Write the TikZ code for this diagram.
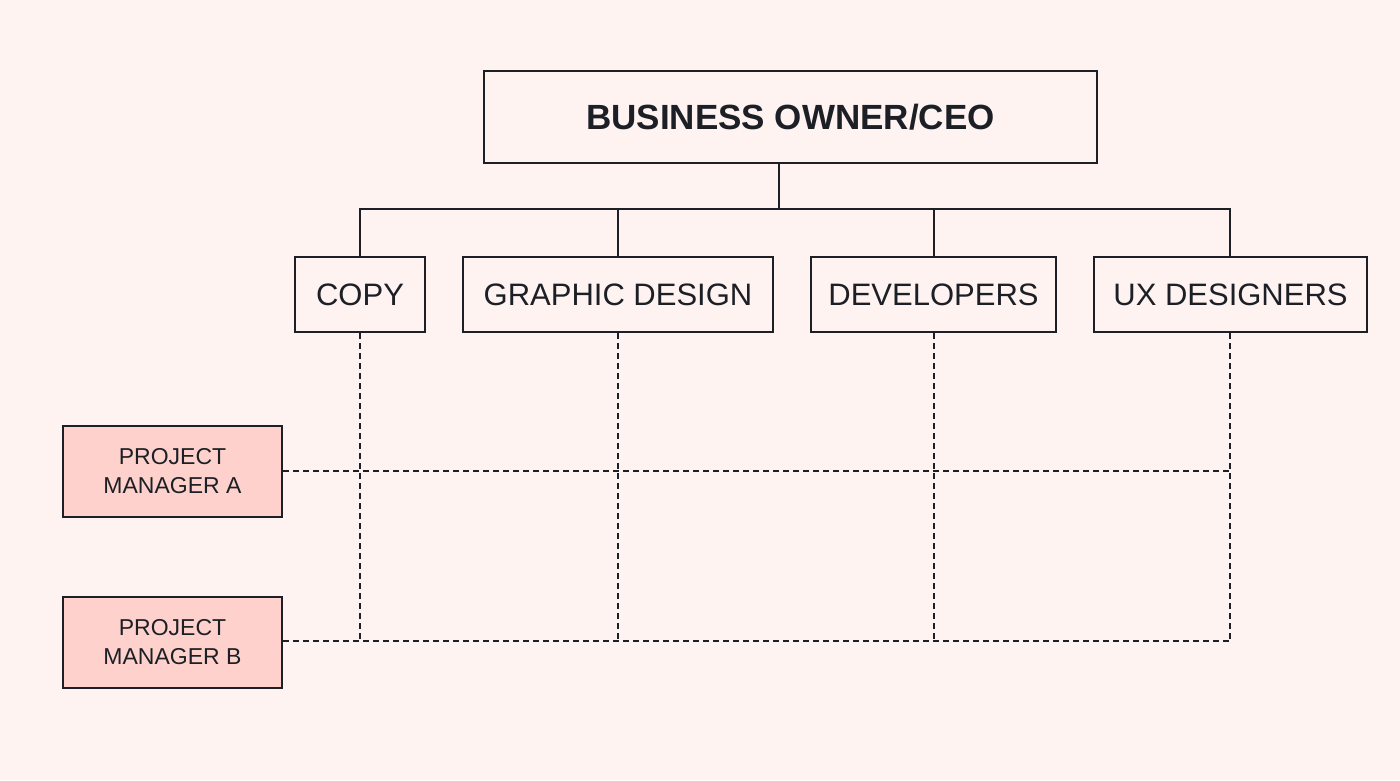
\documentclass[tikz,border=0pt]{standalone}
\usepackage{fontspec}
\setmainfont{Liberation Sans}
\definecolor{bg}{RGB}{254,243,241}
\definecolor{pm}{RGB}{254,209,204}
\definecolor{ink}{RGB}{28,32,38}
\begin{document}
\begin{tikzpicture}[x=1pt,y=-1pt,
  box/.style={draw=ink,line width=2pt,text=ink,inner sep=0pt,anchor=north west},
  pmbox/.style={box,fill=pm,align=center,font=\fontsize{23}{29}\selectfont},
  dept/.style={box,font=\fontsize{31}{36}\selectfont},
  solidline/.style={draw=ink,line width=2pt},
  dline/.style={draw=ink,line width=2pt,dash pattern=on 6pt off 4pt}]
\fill[bg] (0,0) rectangle (1400,780);
\useasboundingbox (0,0) rectangle (1400,780);
\node[box,minimum width=613pt,minimum height=92pt,font=\bfseries\fontsize{35}{40}\selectfont] (ceo) at (483,70) {BUSINESS OWNER/CEO};
\node[dept,minimum width=130pt,minimum height=75pt] (copy) at (294,256) {COPY};
\node[dept,minimum width=310pt,minimum height=75pt] (gd) at (462,256) {GRAPHIC DESIGN};
\node[dept,minimum width=245pt,minimum height=75pt] (dev) at (810,256) {DEVELOPERS};
\node[dept,minimum width=273pt,minimum height=75pt] (ux) at (1093,256) {UX DESIGNERS};
\node[pmbox,minimum width=219pt,minimum height=91pt] (pma) at (62,425) {PROJECT\\MANAGER A};
\node[pmbox,minimum width=219pt,minimum height=91pt] (pmb) at (62,596) {PROJECT\\MANAGER B};
\coordinate (hub) at (779,209);
\coordinate (copyb) at (360,641);
\coordinate (gdb) at (618,641);
\coordinate (devb) at (934,641);
\coordinate (uxb) at (1230,641);
\coordinate (pmaend) at (1230,471);
\draw[solidline] (ceo.south -| hub) -- (hub);
\draw[solidline] (copy.north -| copyb) |- (hub);
\draw[solidline] (gd.north -| gdb) -- (gdb |- hub);
\draw[solidline] (dev.north -| devb) -- (devb |- hub);
\draw[solidline] (ux.north -| uxb) |- (hub);
\draw[dline] (copy.south -| copyb) -- (copyb);
\draw[dline] (gd.south -| gdb) -- (gdb);
\draw[dline] (dev.south -| devb) -- (devb);
\draw[dline] (ux.south -| uxb) -- (uxb);
\draw[dline] (pma.east |- pmaend) -- (pmaend);
\draw[dline] (pmb.east |- uxb) -- (uxb);
\end{tikzpicture}
\end{document}
